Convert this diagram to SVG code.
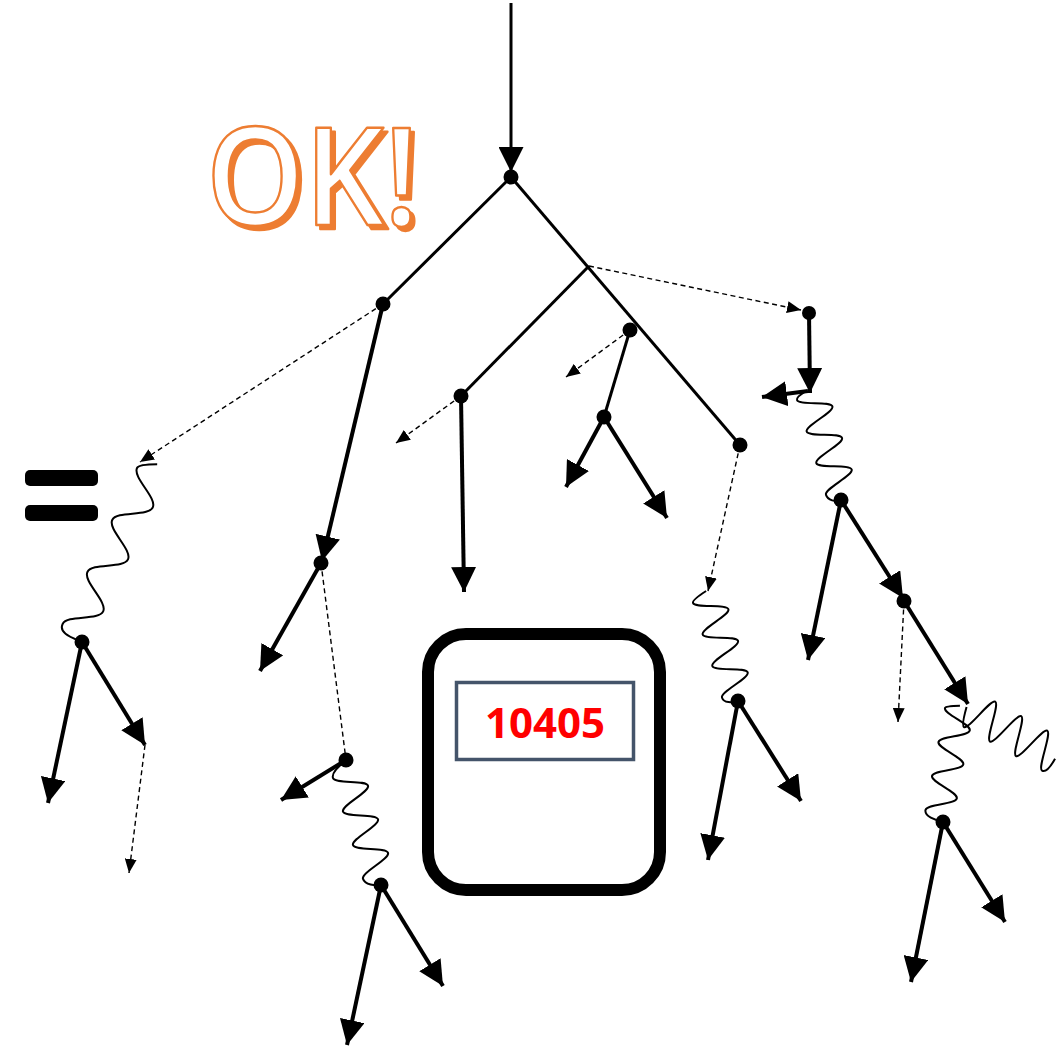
<svg xmlns="http://www.w3.org/2000/svg" width="1058" height="1047" viewBox="0 0 1058 1047">
<style>
.ln{stroke:#000;fill:none;stroke-linecap:butt}
.tree{stroke-width:3}
.arr{stroke-width:4;marker-end:url(#ah)}
.arr3{stroke-width:3;marker-end:url(#ah)}
.dash{stroke-width:1.4;stroke-dasharray:5 3.5}
.dah{marker-end:url(#sah)}
.wave{stroke:#000;stroke-width:2;fill:none}
.node{fill:#000}
.ok{font-family:"Open Sans","Noto Sans",sans-serif;font-weight:600;font-size:136px;stroke:#ED7D31;stroke-width:2.5;stroke-linejoin:round;fill:#fff}
</style>
<defs>
<marker id="ah" markerUnits="userSpaceOnUse" markerWidth="25" markerHeight="25" viewBox="0 0 25 25" refX="25" refY="12.5" orient="auto"><path d="M0,0 L25,12.5 L0,25 Z" fill="#000"/></marker>
<marker id="sah" markerUnits="userSpaceOnUse" markerWidth="14" markerHeight="12" viewBox="0 0 14 12" refX="14" refY="6" orient="auto"><path d="M0,0 L14,6 L0,12 Z" fill="#000"/></marker>
<filter id="okshadow" x="-10%" y="-10%" width="130%" height="130%">
<feOffset in="SourceAlpha" dx="3.5" dy="3.5" result="off"/>
<feFlood flood-color="#ED7D31"/>
<feComposite in2="off" operator="in" result="sh"/>
<feMerge><feMergeNode in="sh"/><feMergeNode in="SourceGraphic"/></feMerge>
</filter>
</defs>
<rect width="1058" height="1047" fill="#fff"/>

<g id="ok-label" filter="url(#okshadow)">
<text class="ok" transform="translate(206,225) scale(0.92,1)" x="0" y="0">OK!</text>
</g>

<g id="equals">
<rect x="25" y="470" width="73" height="16" rx="5" fill="#000"/>
<rect x="25" y="505" width="73" height="16" rx="5" fill="#000"/>
</g>

<g id="box">
<rect x="428" y="634" width="232" height="256" rx="38" fill="#fff" stroke="#000" stroke-width="12"/>
<rect x="456.5" y="682.5" width="177" height="77" fill="#fff" stroke="#44546A" stroke-width="3.5"/>
<text x="545" y="738" text-anchor="middle" font-family="'Open Sans','Noto Sans',sans-serif" font-weight="700" font-size="42" fill="#FF0000">10405</text>
</g>

<g id="connectors">
<line class="ln arr3" x1="511" y1="3" x2="511" y2="172"/>
<line class="ln tree" x1="511" y1="177" x2="383" y2="304"/>
<line class="ln tree" x1="511" y1="177" x2="740" y2="445"/>
<line class="ln tree" x1="589" y1="266" x2="461" y2="396"/>
<line class="ln tree" x1="630" y1="330" x2="604" y2="417"/>

<line class="ln arr" x1="383" y1="304" x2="322" y2="561"/>
<line class="ln arr" x1="321" y1="563" x2="260" y2="671"/>
<line class="ln arr" x1="461" y1="396" x2="464" y2="592"/>
<line class="ln arr" x1="604" y1="417" x2="566" y2="487"/>
<line class="ln arr" x1="604" y1="417" x2="667" y2="518"/>
<line class="ln arr" x1="809" y1="313" x2="810" y2="393"/>
<line class="ln arr" x1="808" y1="391" x2="762" y2="397"/>
<line class="ln arr" x1="841" y1="500" x2="808" y2="660"/>
<line class="ln arr" x1="841" y1="500" x2="903" y2="598"/>
<line class="ln arr" x1="904" y1="601" x2="968" y2="704"/>
<line class="ln arr" x1="82" y1="642" x2="48" y2="803"/>
<line class="ln arr" x1="82" y1="642" x2="145" y2="745"/>
<line class="ln arr" x1="346" y1="760" x2="281" y2="800"/>
<line class="ln arr" x1="381" y1="885" x2="347" y2="1045"/>
<line class="ln arr" x1="381" y1="885" x2="443" y2="986"/>
<line class="ln arr" x1="738" y1="701" x2="708" y2="860"/>
<line class="ln arr" x1="738" y1="701" x2="801" y2="801"/>
<line class="ln arr" x1="943" y1="822" x2="911" y2="982"/>
<line class="ln arr" x1="943" y1="822" x2="1005" y2="922"/>

<line class="ln dash dah" x1="383" y1="304" x2="140" y2="462"/>
<line class="ln dash dah" x1="461" y1="396" x2="396" y2="443"/>
<line class="ln dash dah" x1="630" y1="330" x2="566" y2="377"/>
<line class="ln dash dah" x1="589" y1="266" x2="801" y2="310"/>
<line class="ln dash dah" x1="740" y1="445" x2="708" y2="591"/>
<line class="ln dash" x1="321" y1="563" x2="346" y2="760"/>
<line class="ln dash dah" x1="904" y1="601" x2="898" y2="722"/>
<line class="ln dash dah" x1="145" y1="745" x2="129" y2="873"/>

<path class="wave" transform="translate(151.1,474.7) rotate(115.5)" d="M-12,-1 Q-4,15.6 0,15.6 C10.5,15.6 18.3,-15.6 28.8,-15.6 S47.1,15.6 57.6,15.6 S75.9,-15.6 86.4,-15.6 S104.7,15.6 115.2,15.6 S133.5,-15.6 144,-15.6 S162.3,15.6 172.8,15.6 S181,0 181,-10"/>
<path class="wave" transform="translate(348,773.5) rotate(73.4)" d="M-13,-2 C-9,9 -5,15.7 0,15.7 C6.4,15.7 11.1,-15.7 17.5,-15.7 S28.6,15.7 35,15.7 S46.1,-15.7 52.5,-15.7 S63.6,15.7 70,15.7 S81.1,-15.7 87.5,-15.7 S98.6,15.7 105,15.7 S116,6 116,0"/>
<path class="wave" transform="translate(708.3,598.2) rotate(73)" d="M-7.5,0 Q-3,16 0,16 C6,16 10.5,-16 16.5,-16 S27,16 33,16 S43.5,-16 49.5,-16 S60,16 66,16 S76.5,-16 82.5,-16 S93,16 99,16 S107,8 107,1"/>
<path class="wave" transform="translate(812.3,395.3) rotate(73)" d="M-6,4 Q-3,16 0,16 C6,16 10.5,-16 16.5,-16 S27,16 33,16 S43.5,-16 49.5,-16 S60,16 66,16 S76.5,-16 82.5,-16 S93,16 99,16 S109,9 109,3"/>
<path class="wave" transform="translate(959,710.7) rotate(100.8)" d="M-5,0 Q-2,14.3 0,14.3 C6.3,14.3 11,-14.3 17.3,-14.3 S28.3,14.3 34.6,14.3 S45.6,-14.3 51.9,-14.3 S62.9,14.3 69.2,14.3 S80.2,-14.3 86.5,-14.3 S97.5,14.3 103.8,14.3 S112,3 112,-5"/>
<path class="wave" transform="translate(973.1,710.7) rotate(29.2)" d="M-7.5,0 Q-3,18.7 0,18.7 C5.4,18.7 9.5,-18.7 14.9,-18.7 S24.4,18.7 29.8,18.7 S39.3,-18.7 44.7,-18.7 S54.2,18.7 59.6,18.7 S69.1,-18.7 74.5,-18.7 S84,18.7 89.4,18.7 S95,8 95,2"/>
</g>

<g id="n-root"><circle class="node" cx="511" cy="177" r="7.5"/></g>
<g id="n-a"><circle class="node" cx="383" cy="304" r="7.5"/></g>
<g id="n-b"><circle class="node" cx="461" cy="396" r="7.5"/></g>
<g id="n-c"><circle class="node" cx="630" cy="330" r="7.5"/></g>
<g id="n-d"><circle class="node" cx="604" cy="417" r="7.5"/></g>
<g id="n-e"><circle class="node" cx="740" cy="445" r="7.5"/></g>
<g id="n-f"><circle class="node" cx="809" cy="313" r="7"/></g>
<g id="n-g"><circle class="node" cx="321" cy="563" r="7.5"/></g>
<g id="n-h"><circle class="node" cx="346" cy="760" r="7.5"/></g>
<g id="n-i"><circle class="node" cx="381" cy="885" r="7.5"/></g>
<g id="n-j"><circle class="node" cx="82" cy="642" r="7.5"/></g>
<g id="n-k"><circle class="node" cx="738" cy="701" r="7.5"/></g>
<g id="n-l"><circle class="node" cx="841" cy="500" r="7.5"/></g>
<g id="n-m"><circle class="node" cx="904" cy="601" r="7.5"/></g>
<g id="n-n"><circle class="node" cx="943" cy="822" r="7.5"/></g>
</svg>
